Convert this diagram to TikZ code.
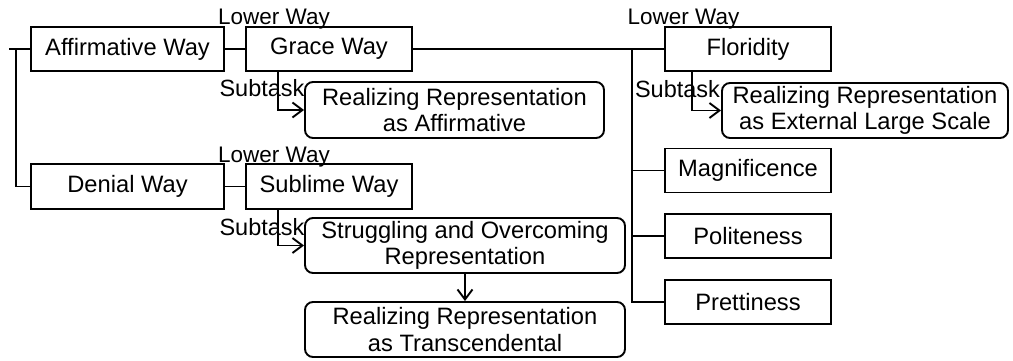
\documentclass[tikz,border=0pt]{standalone}
\usepackage{fontspec}
\setmainfont{Liberation Sans}
\usetikzlibrary{arrows.meta}
\begin{document}
\begin{tikzpicture}[x=1pt,y=1pt,
  every node/.style={font=\fontsize{23.7}{26.5}\selectfont, inner sep=0pt},
  waybox/.style={draw, line width=1.9pt, minimum height=44, align=center},
  repbox/.style={draw, line width=1.9pt, rounded corners=8pt, minimum height=55, align=center},
  conn/.style={line width=1.9pt},
  arr/.style={line width=1.9pt, -{Straight Barb[length=10pt,width=15pt,line width=1.9pt]}},
  lbl/.style={anchor=base, font=\fontsize{22.5}{26}\selectfont},
  sublbl/.style={anchor=base, font=\fontsize{23.5}{26}\selectfont}
]
\useasboundingbox (0,0) rectangle (1013,-361);
% boxes
\node[waybox, minimum width=193] (aff) at (127.5,-49) {Affirmative Way};
\node[waybox, minimum width=166] (grace) at (329,-49) {Grace Way};
\node[waybox, minimum width=166] (flor) at (748,-49) {Floridity};
\node[waybox, minimum width=193, minimum height=45] (den) at (127.5,-186.5) {Denial Way};
\node[waybox, minimum width=166, minimum height=45] (sub) at (329,-186.5) {Sublime Way};
\node[waybox, minimum width=166] (mag) at (748,-170.5) {Magnificence};
\node[waybox, minimum width=166] (pol) at (748,-236) {Politeness};
\node[waybox, minimum width=166] (pret) at (748,-302) {Prettiness};
\node[repbox, minimum width=299, minimum height=56] (rA) at (454.5,-110) {Realizing Representation\\as Affirmative};
\node[repbox, minimum width=286] (rE) at (865,-110.5) {Realizing Representation\\as External Large Scale};
\node[repbox, minimum width=320] (str) at (465,-245.5) {Struggling and Overcoming\\Representation};
\node[repbox, minimum width=320] (rT) at (465,-329.5) {Realizing Representation\\as Transcendental};
% left bracket
\coordinate (ls) at (9,-49);
\coordinate (lv) at (16,-49);
\draw[conn] (ls) -- (aff.west);
\draw[conn] (lv) |- (den.west);
% horizontal links
\draw[conn] (aff.east) -- (grace.west);
\draw[conn] (den.east) -- (sub.west);
\draw[conn] (grace.east) -- (flor.west);
% trunk
\coordinate (tr) at (632,-49);
\draw[conn] (tr) |- (mag.west);
\draw[conn] (tr) |- (pol.west);
\draw[conn] (tr) |- (pret.west);
% subtask arrows
\draw[arr] ([xshift=33]grace.south west) |- (rA.west);
\draw[arr] ([xshift=33]sub.south west) |- (str.west);
\draw[arr] ([xshift=28]flor.south west) |- (rE.west);
\draw[arr] (str.south) -- (rT.north);
% labels
\node[lbl] (lw1) at (274,-25) {Lower Way};
\node[lbl] (lw2) at (274,-162) {Lower Way};
\node[lbl] (lw3) at (683.5,-25) {Lower Way};
\node[sublbl] (st1) at (262,-97) {Subtask};
\node[sublbl] (st2) at (262,-235) {Subtask};
\node[sublbl] (st3) at (677.5,-98) {Subtask};
\end{tikzpicture}
\end{document}
